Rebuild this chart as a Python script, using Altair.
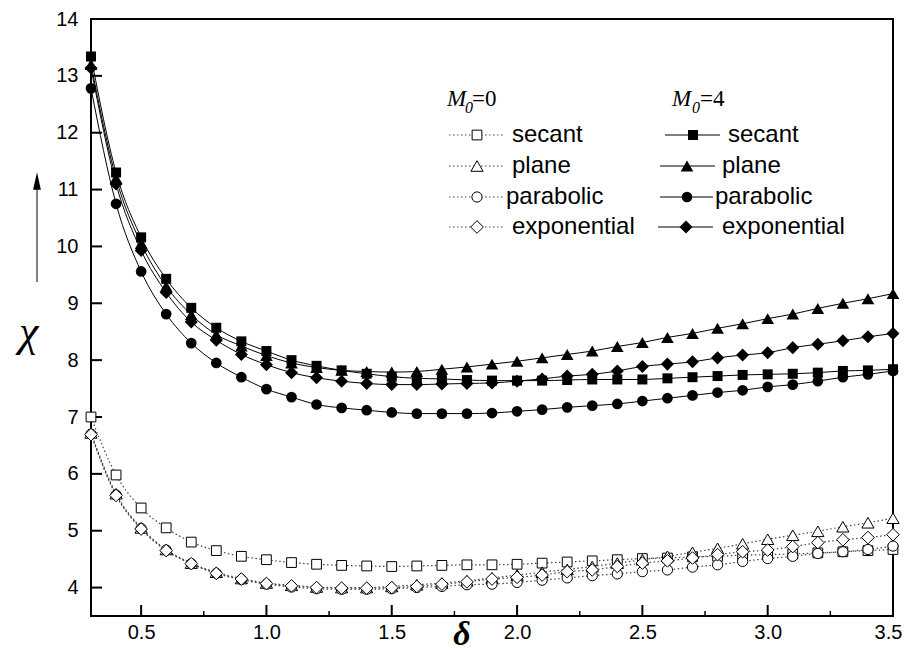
import altair as alt
import pandas as pd

# ---------------- data ----------------
delta = [0.3, 0.4, 0.5, 0.6, 0.7, 0.8, 0.9, 1.0, 1.1, 1.2,
         1.3, 1.4, 1.5, 1.6, 1.7, 1.8, 1.9, 2.0, 2.1, 2.2,
         2.3, 2.4, 2.5, 2.6, 2.7, 2.8, 2.9, 3.0, 3.1, 3.2,
         3.3, 3.4, 3.5]

# M0 = 0 (open markers, dotted lines)
secant_0 = [7.00, 5.98, 5.40, 5.05, 4.80, 4.65, 4.55, 4.49, 4.44, 4.41,
            4.39, 4.38, 4.37, 4.38, 4.39, 4.40, 4.40, 4.41, 4.43, 4.45,
            4.47, 4.49, 4.51, 4.52, 4.54, 4.55, 4.57, 4.58, 4.59, 4.61,
            4.63, 4.65, 4.67]
plane_0 = [6.72, 5.65, 5.05, 4.67, 4.43, 4.27, 4.16, 4.08, 4.04, 4.01,
           4.00, 4.00, 4.02, 4.05, 4.08, 4.12, 4.17, 4.22, 4.27, 4.32,
           4.37, 4.43, 4.49, 4.55, 4.62, 4.69, 4.77, 4.85, 4.92, 4.99,
           5.07, 5.14, 5.22]
parabolic_0 = [6.70, 5.63, 5.04, 4.66, 4.42, 4.25, 4.14, 4.06, 4.01, 3.98,
               3.97, 3.97, 3.98, 4.00, 4.02, 4.05, 4.06, 4.09, 4.13, 4.17,
               4.21, 4.24, 4.28, 4.31, 4.36, 4.40, 4.46, 4.51, 4.55, 4.60,
               4.63, 4.67, 4.73]
exponential_0 = [6.69, 5.62, 5.03, 4.65, 4.42, 4.25, 4.15, 4.07, 4.03, 4.00,
                 3.99, 3.99, 4.00, 4.02, 4.06, 4.10, 4.15, 4.18, 4.22, 4.28,
                 4.31, 4.37, 4.43, 4.47, 4.52, 4.58, 4.63, 4.66, 4.72, 4.79,
                 4.84, 4.88, 4.93]

# M0 = 4 (filled markers, solid lines)
secant_4 = [13.34, 11.30, 10.16, 9.43, 8.92, 8.57, 8.33, 8.16, 8.00, 7.90,
            7.82, 7.76, 7.71, 7.68, 7.67, 7.65, 7.64, 7.64, 7.64, 7.65,
            7.66, 7.66, 7.66, 7.68, 7.70, 7.72, 7.74, 7.75, 7.76, 7.78,
            7.81, 7.82, 7.84]
plane_4 = [13.20, 11.20, 10.05, 9.30, 8.80, 8.45, 8.25, 8.08, 7.95, 7.87,
           7.82, 7.80, 7.79, 7.80, 7.84, 7.88, 7.93, 7.98, 8.04, 8.10,
           8.16, 8.24, 8.31, 8.40, 8.47, 8.56, 8.64, 8.73, 8.81, 8.91,
           9.00, 9.08, 9.17]
parabolic_4 = [12.78, 10.75, 9.56, 8.81, 8.30, 7.95, 7.70, 7.49, 7.35, 7.22,
               7.16, 7.12, 7.08, 7.06, 7.06, 7.06, 7.07, 7.10, 7.13, 7.17,
               7.20, 7.23, 7.28, 7.33, 7.38, 7.43, 7.47, 7.53, 7.57, 7.63,
               7.70, 7.75, 7.81]
exponential_4 = [13.14, 11.10, 9.93, 9.19, 8.67, 8.35, 8.10, 7.92, 7.78, 7.69,
                 7.63, 7.59, 7.57, 7.57, 7.58, 7.59, 7.60, 7.63, 7.67, 7.72,
                 7.75, 7.81, 7.89, 7.93, 7.97, 8.04, 8.09, 8.13, 8.22, 8.28,
                 8.34, 8.41, 8.47]

series_names = ["secant", "plane", "parabolic", "exponential"]
x_ticks = [0.5, 1.0, 1.5, 2.0, 2.5, 3.0, 3.5]
x_minor = [0.75, 1.25, 1.75, 2.25, 2.75, 3.25]
y_ticks = [4, 5, 6, 7, 8, 9, 10, 11, 12, 13, 14]

# ---------------- styling ----------------
W, H = 802, 597
SANS = "Liberation Sans"
SERIF = "Liberation Serif"
shape_of = {"secant": "square", "plane": "triangle-up",
            "parabolic": "circle", "exponential": "diamond"}
size_filled = {"secant": 100, "plane": 160, "parabolic": 115, "exponential": 170}
size_open = {"secant": 95, "plane": 150, "parabolic": 105, "exponential": 160}

def build(vals_list, sizes):
    rows = []
    for name, vals in zip(series_names, vals_list):
        for d, v in zip(delta, vals):
            rows.append({"delta": d, "chi": v, "series": name,
                         "shape": shape_of[name], "size": sizes[name]})
    return pd.DataFrame(rows)

df0 = build([secant_0, plane_0, parabolic_0, exponential_0], size_open)
df4 = build([secant_4, plane_4, parabolic_4, exponential_4], size_filled)

xs = alt.Scale(domain=[0.3, 3.5], nice=False, zero=False)
ys = alt.Scale(domain=[3.5, 14], nice=False, zero=False)

x_axis = alt.Axis(values=x_ticks, format=".1f", title=None, grid=False, ticks=False,
                  tickSize=0, domain=False, labelFont=SANS, labelFontSize=20,
                  labelColor="black", labelPadding=6, labelFlush=False,
                  labelOverlap=False, labelBound=False,
                  labelOffset={"condition": {"test": "datum.value >= 3.45", "value": -5},
                               "value": 0})
y_axis = alt.Axis(values=y_ticks, format="d", title=None, grid=False, ticks=False,
                  tickSize=0, domain=False, labelFont=SANS, labelFontSize=20,
                  labelColor="black", labelPadding=13, labelFlush=False,
                  labelOverlap=False, labelBound=False)

def X(field):
    return alt.X(field, scale=xs, axis=x_axis, title=None)

def Y(field):
    return alt.Y(field, scale=ys, axis=y_axis, title=None)

lines0 = alt.Chart(df0).mark_line(interpolate="monotone", color="#444444",
                                  strokeWidth=1.2, strokeDash=[1.5, 2.5]).encode(
    x=X("delta:Q"), y=Y("chi:Q"), detail="series:N")
points0 = alt.Chart(df0).mark_point(filled=False, fill="white", fillOpacity=1,
                                    color="black", strokeWidth=1, opacity=1).encode(
    x=X("delta:Q"), y=Y("chi:Q"),
    shape=alt.Shape("shape:N", scale=None), size=alt.Size("size:Q", scale=None))

lines4 = alt.Chart(df4).mark_line(interpolate="monotone", color="black",
                                  strokeWidth=1).encode(
    x=X("delta:Q"), y=Y("chi:Q"), detail="series:N")
points4 = alt.Chart(df4).mark_point(filled=True, color="black", opacity=1).encode(
    x=X("delta:Q"), y=Y("chi:Q"),
    shape=alt.Shape("shape:N", scale=None), size=alt.Size("size:Q", scale=None))

# inward ticks
xt_major = alt.Chart(pd.DataFrame({"delta": x_ticks[:-1]})).mark_rule(color="black", strokeWidth=2).encode(
    x=X("delta:Q"), y=alt.value(H), y2=alt.value(H - 11))
xt_minor = alt.Chart(pd.DataFrame({"delta": x_minor})).mark_rule(color="black", strokeWidth=1.5).encode(
    x=X("delta:Q"), y=alt.value(H), y2=alt.value(H - 5))
yt_major = alt.Chart(pd.DataFrame({"chi": y_ticks[:-1]})).mark_rule(color="black", strokeWidth=2).encode(
    y=Y("chi:Q"), x=alt.value(0), x2=alt.value(11))

one = alt.Data(values=[{"a": 1}])
deco = []

def text(t, x, y, font=SANS, size=24, style="normal", weight="normal",
         align="left", baseline="middle"):
    deco.append(alt.Chart(one).mark_text(text=t, font=font, fontSize=size,
                                         fontStyle=style, fontWeight=weight,
                                         align=align, baseline=baseline,
                                         color="black").encode(
        x=alt.value(x), y=alt.value(y)))

def seg(x1, x2, y, dashed):
    kw = dict(color="#444444", strokeWidth=1.2, strokeDash=[1.5, 2.5]) if dashed else \
        dict(color="black", strokeWidth=1)
    deco.append(alt.Chart(one).mark_rule(**kw).encode(
        x=alt.value(x1), x2=alt.value(x2), y=alt.value(y)))

def sym(shape, x, y, size, filled):
    if filled:
        m = alt.Chart(one).mark_point(shape=shape, filled=True, color="black",
                                      size=size, opacity=1)
    else:
        m = alt.Chart(one).mark_point(shape=shape, filled=False, fill="white",
                                      fillOpacity=1, color="black", size=size,
                                      strokeWidth=1, opacity=1)
    deco.append(m.encode(x=alt.value(x), y=alt.value(y)))

# legend headings  M_0=0   M_0=4
for (xm, xs0, xe, t) in [(356, 374, 381, "=0"), (581, 601, 609, "=4")]:
    text("M", xm, 87, font=SERIF, size=23, style="italic", baseline="alphabetic")
    text("0", xs0, 94, font=SERIF, size=16, style="italic", baseline="alphabetic")
    text(t, xe, 87, font=SERIF, size=23, baseline="alphabetic")

row_y = [116, 147, 178, 208]
left_text_x = [421, 421, 415, 421]
right_line = [(574, 629, 602, 637), (569, 624, 596, 631),
              (569, 622, 596, 624), (567, 622, 595, 631)]
for i, name in enumerate(series_names):
    yy = row_y[i]
    seg(358, 414, yy, True)
    sym(shape_of[name], 386, yy, size_open[name], False)
    text(name, left_text_x[i], yy)
    a, b, m, tx = right_line[i]
    seg(a, b, yy, False)
    sym(shape_of[name], m, yy, size_filled[name], True)
    text(name, tx, yy)

# axis titles and arrow
text("χ", -72, 314, font=SERIF, size=44, style="italic")
text("δ", 371, 616, font=SERIF, size=34, style="italic", weight="bold", align="center")
deco.append(alt.Chart(one).mark_rule(color="black", strokeWidth=1).encode(
    x=alt.value(-54), y=alt.value(263), y2=alt.value(162)))
deco.append(alt.Chart(one).mark_point(shape="M0,-1L0.45,1L-0.45,1Z", filled=True,
                                      color="black", size=300, opacity=1).encode(
    x=alt.value(-54), y=alt.value(162)))

chart = alt.layer(lines0, lines4, xt_major, xt_minor, yt_major,
                  points0, points4, *deco).properties(
    width=W, height=H,
    padding={"left": 83, "top": 11, "right": 11, "bottom": 37},
    autosize=alt.AutoSizeParams(type="none"),
    background="white",
).configure_view(stroke="black", strokeWidth=2)

chart.save("out.html", embed_options={"renderer": "svg", "actions": False})
